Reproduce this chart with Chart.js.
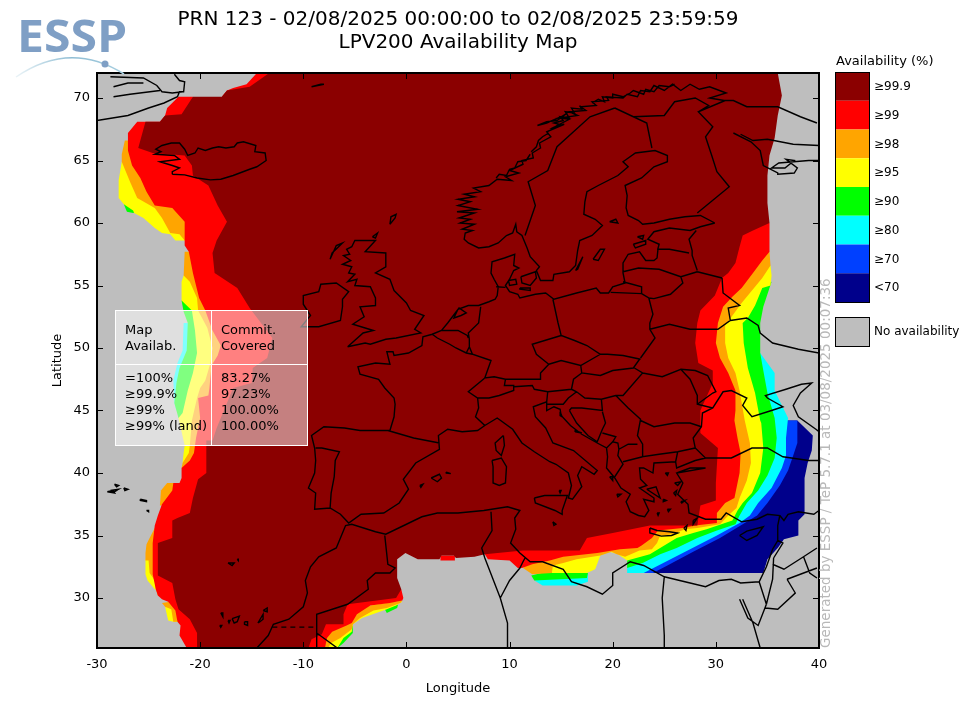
<!DOCTYPE html>
<html>
<head>
<meta charset="utf-8">
<title>LPV200 Availability Map</title>
<script src="https://cdn.jsdelivr.net/npm/chart.js@4"></script>
<style>
  html, body { margin: 0; padding: 0; background: #fff; }
  canvas { display: block; }
</style>
</head>
<body>
<canvas id="map" width="960" height="720"></canvas>
<script>
/* ---- axes ---- */
const LON_TICKS = [-30, -20, -10, 0, 10, 20, 30, 40];
const LAT_TICKS = [30, 35, 40, 45, 50, 55, 60, 65, 70];

/* ---- legend ---- */
const LEVEL_LABELS = ['≥99.9', '≥99', '≥98', '≥95', '≥90', '≥80', '≥70', '<70'];
const LEVEL_COLORS = ['#8b0000', '#ff0000', '#ffa500', '#ffff00', '#00ff00', '#00ffff', '#0040ff', '#00008b'];
const NO_DATA_COLOR = '#bebebe';

/* ---- summary box ---- */
const MAP_AVAIL = ['=100%', '≥99.9%', '≥99%', '≥99% (land)'];
const COMMIT_COVERED = ['83.27%', '97.23%', '100.00%', '100.00%'];

/* ---- availability regions [lon, lat], each is the area at or above that level ---- */
const AREA_BELOW70 = [[[37.9,44.2],[39.4,43],[39.3,41.8],[38.9,40.8],[38.6,39.6],[38.6,36.7],[38,36.2],[38,35],[36.6,34.7],[36,34],[35,33.1],[34.6,32],[23.1,32],[26.5,37.8],[35.3,44.2]]];
const AREA_70 = [[[37,44.2],[37.9,44.2],[37.9,42.4],[37.5,41.4],[37,40.2],[36.2,39],[35,37.6],[34,36.6],[32.8,36],[30.4,34.8],[27.8,33.7],[25.3,32.6],[23.9,32],[22.6,32],[26.5,37.8],[33.3,44.2]]];
const AREA_80 = [
  [[34.3,49.6],[35.7,48],[35.7,46.6],[37,44.4],[36.8,42.8],[36.8,41.4],[36.4,40.4],[35.4,38.8],[34.1,37.6],[33.3,36.6],[32.3,36],[30.1,35],[27.5,33.9],[24.9,32.8],[23,32],[21.4,32],[21.4,32.8],[26.5,37.8],[31.4,49.6]],
  [[12.4,31.4],[13.2,31],[16.5,31],[17.6,31.3],[17.6,32]],
  [[-21.6,52],[-21.7,49.8],[-22.2,48.8],[-22.6,47.4],[-22.5,45.6],[-22.3,45],[-20,45],[-20,52]]
];
const AREA_90 = [
  [[35.4,55.3],[34.6,53.3],[34.3,52],[34.3,49.6],[34.6,48.2],[35,46.4],[35.7,44.4],[35.9,42.8],[35.7,41.2],[35,39.8],[34.1,38.6],[33,37.6],[32.3,36.6],[31.9,35.9],[30.1,35.4],[28.2,34.8],[26.2,34],[24.6,33.5],[22.9,32.8],[21.4,32.4],[21.4,33],[26.5,37.8],[30.4,53.8]],
  [[12.1,31.8],[12.4,31.4],[17.5,31.6],[17.6,32],[14.1,32.2]],
  [[-21.8,53.8],[-21.6,52.9],[-21.2,52],[-21.3,49.8],[-22,48.4],[-22.3,47.2],[-22.5,45.6],[-22.1,44.4],[-20,44.4],[-20,53.8]],
  [[-27.4,61.5],[-27.1,60.9],[-26.5,60.8],[-25.8,61],[-26.8,61.8]],
  [[-6.7,26],[-6.1,26.4],[-5.2,27.2],[-5.2,27.8],[-6,27.4]],
  [[-1.9,28.8],[-0.9,29.2],[-0.8,29.5],[-2.1,29.1]]
];
const AREA_95 = [
  [[35.3,56.6],[35.4,55.8],[35.3,55],[34.5,54.8],[33.8,53.4],[33.1,52.4],[32.6,52],[32.7,50.4],[33.1,48.4],[33.8,46.4],[34.3,44.2],[34.4,44],[34.6,42],[34.3,40],[33.5,38.4],[32.6,37.6],[32.1,37],[31.6,36.2],[29.1,35.5],[27.8,35.2],[26.2,34.8],[24.6,34],[23.6,33.5],[21.4,33],[20.5,33.5],[19.7,33.7],[18.8,33.4],[18.3,32.3],[17.5,32],[14.1,32],[14.1,33],[18.8,37.8],[28.5,56.6]],
  [[-27.6,64.9],[-27.9,63.4],[-27.9,62],[-27.4,61.5],[-26.5,61],[-26.4,60.8],[-25.5,60.4],[-24.4,59.6],[-23.7,59.2],[-22.9,59.1],[-22.4,58.6],[-19,58.6],[-19,64.9]],
  [[-21.6,55.8],[-21.8,55.3],[-21.8,53.8],[-20.8,53],[-20.5,51.4],[-20.3,49.6],[-20.7,48],[-21.2,46.6],[-21.7,44.8],[-22.1,44.4],[-21.5,42.2],[-21.6,41.6],[-21.7,40.8],[-21.5,40.6],[-17.9,40.6],[-17.9,55.8]],
  [[-25.3,33.1],[-25.3,31.9],[-25.1,31.4],[-24.4,30.7],[-24.1,30.6],[-21,30.6],[-21,33.1]],
  [[-23.4,29.3],[-23.1,28.2],[-22.6,28.1],[-22.1,28.1],[-22.1,29.3]],
  [[-7.6,26],[-6.7,26],[-6.1,26.8],[-5.3,27.3],[-5.2,27.9],[-4.3,28.4],[-1.9,29.1],[-1,29.4],[-0.4,29.7],[-1.1,30],[-6.4,28.6]]
];
const AREA_98 = [
  [[35.2,57.7],[35.3,56.6],[34.5,55.6],[33.8,54.9],[32.5,53.6],[30.9,51.8],[30.9,50.4],[31.2,49.2],[31.9,48],[32.3,46.6],[32.8,44.2],[33.3,42.4],[33.4,40.8],[33,39.4],[32.3,38],[32,37.2],[31.2,36.6],[30.4,35.9],[28.2,35.6],[27,35.5],[25.8,35.1],[24.6,35],[24.3,34.4],[23.8,33.9],[22.6,33.8],[21.2,33.3],[20.4,33.5],[19.9,33.7],[18.8,33.4],[16.5,33.1],[15.2,32.8],[14.2,32.6],[14.1,32],[12.2,31.9],[11.3,32.4],[18.8,37.8],[28.5,57.7]],
  [[-27.3,66.6],[-27.6,65.5],[-27.6,64.9],[-26.8,63.3],[-26.1,62],[-24.4,61.2],[-23.7,60.4],[-22.9,59.2],[-22,59.1],[-21.5,58.6],[-19,58.6],[-19,66.6]],
  [[-21.5,57.7],[-21.6,55.8],[-21,55.3],[-20.3,54],[-20.2,53],[-19.3,51.6],[-18.8,50],[-19,48.8],[-19.5,47.4],[-20,46.8],[-20.3,46],[-20.8,44.2],[-21,42.2],[-21.1,41.6],[-21.7,40.8],[-21.8,40.4],[-18,40.4],[-18,57.7]],
  [[-23.2,39.2],[-23.8,38.6],[-23.9,37.4],[-22.4,37.4],[-22.4,39.2]],
  [[-24.4,35.6],[-24.9,34.8],[-25.2,34.3],[-25.3,33.6],[-25.3,33],[-25,33],[-24.9,32],[-24.4,31.4],[-24.3,30.7],[-24.1,30.2],[-21,30.2],[-21,35.6]],
  [[-23.7,29.6],[-23.4,29.3],[-22.8,29.1],[-22.6,28.1],[-22.2,28.1],[-22.1,29.8]],
  [[-7.6,26],[-7.3,26.4],[-6.4,26.8],[-5.3,27.5],[-5.2,27.9],[-4.5,28.4],[-3.2,29],[-1.9,29.2],[-0.6,29.6],[-0.4,29.8],[-6.4,29],[-8.4,26]]
];
const AREA_99 = [
  [[35.2,60],[35.2,57.7],[34.5,57],[33.6,56],[32.5,54.8],[31.6,54.1],[30.7,53.3],[30.2,52],[30,50.4],[30.4,49.2],[31.2,48],[31.9,46.6],[31.9,45],[31.8,44.2],[32.1,42.8],[32.4,41.6],[32.3,40],[31.8,38],[30.9,37.6],[30.1,36.8],[30.1,36],[28,35.8],[26.8,35.6],[24.4,35.4],[23.8,34.8],[22.8,34.2],[22.4,34],[20.7,33.9],[18.5,33.6],[15.2,33.3],[13.9,33],[12.2,32.7],[11.2,32.4],[10.8,32.4],[10,33],[7.9,33.1],[7.6,33.5],[9.1,37.8],[28.5,60]],
  [[-26.1,68.1],[-27,67.2],[-27,65.8],[-26.6,64.6],[-25.8,63.6],[-25.2,62.5],[-24.4,61.4],[-22.7,61.2],[-21.5,60.1],[-21.5,58.2],[-21.1,57.7],[-20.7,56],[-20.1,54],[-19.5,53],[-18.8,51.4],[-18,50.2],[-18.3,49.4],[-18.9,48.6],[-19.1,46.8],[-19.2,46.2],[-20.2,46],[-20,44.4],[-20.4,42.8],[-20.6,41.6],[-21,41],[-21.8,40.4],[-21.8,39.6],[-22,39.2],[-22.6,39.2],[-22.7,38.6],[-23.7,37.5],[-24.1,36.6],[-24.4,35.8],[-24.6,34.4],[-24.6,31.9],[-24.3,30.7],[-24.1,30.2],[-23.7,29.9],[-23.1,29.7],[-22.4,29],[-22.2,28.1],[-21.9,27.8],[-22,27],[-21.3,26],[-12,26],[-12,68.1]],
  [[-22.1,70.1],[-20.7,70.1],[-20.7,68],[-23.9,68.1],[-23.4,68.6],[-23.2,69.2]],
  [[-14.5,72],[-12,72],[-12,70],[-17.9,70.1],[-17.4,70.6],[-16.8,70.8],[-15.5,71.1]],
  [[-7.9,26],[-7.7,26.8],[-7.2,27.3],[-5.8,27.8],[-5.3,28],[-4.8,28.7],[-3.5,29.4],[-1.6,29.6],[-0.4,29.8],[-0.3,30],[-0.5,30.7],[-6.4,29.8],[-10.3,26]],
  [[3.3,33.4],[4.7,33.4],[4.7,33],[3.3,33]]
];
const AREA_999 = [[[-13.3,72],[36,72],[36.4,70.2],[36,68.6],[35.7,66.8],[35.2,65.4],[35,63.8],[35,61.6],[35.2,60],[33.6,59.4],[32.6,59],[32.3,58.1],[31.9,56.8],[31.2,56],[30.6,55.6],[29.9,54.2],[28.5,53],[28.2,52],[28,50.4],[28.3,48.8],[29.7,48.2],[29.7,47.2],[28.5,45],[28.5,43.2],[30.2,42],[30,39.2],[30,37.8],[28.5,37.4],[28.2,35.8],[23.6,35.8],[20,35.2],[17.5,34.8],[16.8,33.8],[11.3,33.8],[7.6,33.5],[6.6,33.3],[4.8,33.2],[4.6,33.4],[3.4,33.4],[3.2,33.1],[1.1,33.1],[-0.1,33.6],[-0.9,33.1],[-0.9,31.6],[-0.5,30.7],[-1,30],[-5.7,29.5],[-6.1,28.7],[-6.1,27.9],[-7.8,27.9],[-8.2,27.1],[-9.2,26.7],[-9.5,26],[-20.3,26],[-20.3,27.2],[-21,28.3],[-22.1,29.1],[-22.4,29.9],[-22.7,31.2],[-24.1,31.8],[-24.1,34.4],[-22.7,34.8],[-22.7,36.2],[-22.2,36.4],[-21,36.8],[-20.7,38],[-20.2,39.5],[-19.4,40],[-19.4,42.6],[-18.8,42.6],[-18.4,43.6],[-16.8,46.8],[-15,47.2],[-14.9,48.4],[-13.5,49.2],[-13,50.8],[-15.2,53.2],[-16.4,54.8],[-18.6,56],[-18.8,57.6],[-18.4,58.6],[-17.4,60.1],[-18.3,61.4],[-19.2,63],[-20.7,63.8],[-20.8,64.6],[-21.5,65.4],[-24.6,65.6],[-26,66],[-25.3,68.1],[-23.9,68.1],[-23.4,68.6],[-21.8,68.7],[-20.7,70.1],[-17.9,70.1],[-17.4,70.6],[-15.2,70.9]]];

/* ---- coast lines [lon, lat] ---- */
const COAST_MAINLAND = [
  [29.9,60],[28.5,60.6],[27,60.5],[25.5,60.3],[24,60],[22.9,59.9],[22.5,60.2],[21.5,60.6],[21.3,61.2],[21.4,62.2],[21.2,63],[22.8,63.6],[24,64.5],[25.3,64.9],[25.3,65.4],[24.1,65.8],[22.2,65.6],[21,64.9],[21.5,64.5],[20.5,63.8],[18.6,63],[17.5,62.5],[17.3,61.7],[17.2,60.7],[18.3,60.3],[19,59.8],[18,59],[16.8,58.6],[16.6,57.8],[16.4,56.6],[15.8,56.1],[14.3,55.9],[14.2,55.4],[13,55.4],[12.6,56.2],[12.9,56.5],[12,57.3],[11.7,58],[11.2,59],[10.7,59.3],[10.6,59.9],[10.3,59.2],[9.7,59],[8.9,58.4],[8,58.1],[7,58],[6,58.4],[5.6,58.7],[5.7,59.2],[6.4,59.4],[5.4,59.5],[6.6,59.9],[5.2,60],[6.2,60.3],[5.1,60.4],[6.6,60.8],[4.9,60.9],[6.9,61.1],[5,61.4],[6.2,61.7],[5,61.9],[6.6,62.1],[5.6,62.3],[7.2,62.5],[6.5,62.8],[8,63],[8.8,63.5],[10.2,63.4],[9.6,63.7],[10.9,64],[10,64.2],[11.3,64.7],[11.2,65],[12.3,65.2],[12.2,65.6],[13,66],[12.9,66.4],[14,66.9],[13.6,67.3],[15.3,67.9],[14.4,67.7],[15.8,68.3],[14.9,68.4],[16.6,68.6],[15.8,68.9],[17.4,69],[16.9,69.3],[18.4,69.4],[18,69.7],[19.6,69.8],[19.4,70.1],[21,70],[21.4,70.3],[22.4,70.1],[22.7,70.6],[23.6,70.5],[24,71],[25,70.6],[25.8,71.1],[26.6,70.6],[27.5,71.1],[28.4,70.7],[29.4,70.9],[31,70.4],[29.4,70],[30.8,69.8],[31.7,69.8],[33,69.3],[36,69.3],[38.2,68.5],[39.8,68]
];
const COAST_LOFOTEN = [[12.7,67.8],[13.6,68.1],[14.6,68.2],[15.6,68.8],[15,68.5],[13.6,68],[12.7,67.8]];
const COAST_NORWAY_ISLES = [
  [[14,67.5],[14.8,67.9],[14.3,68],[15.2,68.2],[14.9,68.5],[15.8,68.4],[15.4,68.9],[16.3,68.8],[16,69.2],[17,69.1],[16.8,69.4]],
  [[18,69.6],[18.6,69.9],[19.2,69.7],[19,70.1],[20,70],[20,70.3],[21,70.1],[21.7,70.4],[22,70.6],[23,70.3],[23.2,70.7],[24,70.5],[24.5,71],[25.5,70.9],[26,71.1]],
  [[8.7,63.6],[9,63.9],[9.7,63.8],[10,64.3],[10.5,64.4],[10.8,64.9],[11.6,65],[12,65.5]],
  [[12.1,65.7],[12.6,66.1],[12.8,66.6],[13.2,66.9],[13.8,67.2]]
];
const COAST_WHITE_SEA = [[32.4,67.1],[33.6,66.6],[35,66.7],[37.5,66.3],[40,66.2]];
const COAST_WHITE_SEA_SOUTH = [[31.7,67.2],[33.4,66.5],[34.3,65.8],[34.6,64.6],[36,64],[36,63.9],[37.6,64],[37.9,64.4],[36.8,65.1],[37.6,65],[36.7,64.4],[35.4,64.4],[36.1,64.8],[39,65],[40,65]];
const COAST_BALTIC_SOUTH = [
  [29.9,60],[28.5,59.7],[27.5,59.4],[25.5,59.6],[24,59.3],[23.4,58.7],[24.5,58.3],[24.4,58],[24.3,57.2],[24,57],[23.2,57],[22.6,57.7],[21.5,57.5],[21,56.8],[21,56],[21.2,55.2],[20,54.9],[19.6,54.4],[18.8,54.4],[18.4,54.8],[16.5,54.4],[14.3,53.9],[13.5,54.4],[12.5,54.3],[11,54],[10.8,54.3],[10,54.5],[9.6,55],[10,55.5],[10.4,56.2],[10.9,56.4],[10.4,56.6],[10.5,57.5],[9.5,57.2],[8.3,56.9],[8.2,56],[8.5,55.5],[8.9,54.9],[8.8,54.2],[8.6,53.9],[8,53.7],[7,53.4],[6,53.4],[5,53.1],[4.6,52.4],[5.3,52.6],[5.8,52.8],[5.1,53.2],[4,52],[3.4,51.4],[2.5,51.1],[1.6,50.9],[1.5,50.2],[0.2,49.6],[-1.2,49.4],[-1.3,49.7],[-1.9,49.7],[-1.6,48.7],[-3,48.8],[-4.7,48.5],[-4.5,47.9],[-2.7,47.5],[-2.1,46.8],[-1.2,46],[-1.1,45.5],[-1.2,44.5],[-1.6,43.4],[-3,43.4],[-4.5,43.4],[-6,43.6],[-8,43.7],[-9.2,43],[-8.9,42],[-8.8,41],[-8.9,40],[-9.5,38.8],[-8.8,38.4],[-8.9,37.1],[-7.4,37.2],[-6.4,36.7],[-5.6,36],[-4.4,36.7],[-2.2,36.8],[-0.7,37.6],[0.2,38.7],[-0.3,39.5],[0.9,40.8],[3.2,41.9],[3.1,43],[4,43.5],[5.4,43.3],[6.9,43.4],[7.6,43.8],[8.8,44.4],[10.3,43.5],[11.2,42.4],[12.4,41.7],[13.9,40.9],[14.5,40.7],[15.7,40],[16,39],[15.7,38],[16.1,37.9],[17,38.9],[16.6,39.8],[17,40.5],[18.2,39.9],[18.5,40.2],[16.2,41.8],[14.2,42.4],[13.5,43.6],[12.5,44.5],[12.3,45.3],[13.6,45.7],[13.6,45],[14.3,45.3],[14.9,45.1],[15,44.6],[15.9,43.8],[17,43.1],[18.5,42.4],[19.4,42],[19.5,41.3],[19.4,40.4],[20.2,39.6],[20.8,38.8],[21.7,38.3],[21.3,37.7],[21.7,36.9],[22.5,36.6],[23.1,36.5],[23.5,37],[23,37.9],[24,37.7],[24,38],[22.6,38.8],[23.3,39],[22.7,39.5],[22.6,40.4],[23,40.4],[23.9,40],[24,40.8],[26.1,40.9],[26.2,40.4],[28,41],[29,41.2],[28,42],[27.8,42.8],[28.6,43.7],[28.7,44.8],[29.7,45.2],[30.7,46.5],[31.5,46.6],[33,46],[32.6,45.4],[33.5,44.5],[35.4,45],[36.5,45.3],[35,46],[34.8,46.2],[36.8,46.7],[38.3,47.1],[39.3,47.2],[38.2,46.4],[37.5,45.4],[38,44.5],[39.7,43.5],[40,43.3]
];
const COAST_TURKEY = [[29,41.2],[31.5,41.2],[33.5,42],[35,42],[36.5,41.3],[39,41],[40,41]];
const COAST_TURKEY_SOUTH = [[26.2,40],[27.5,40.4],[29,40.4],[26.2,40],[26.8,39.2],[26.3,38.3],[27.3,37.5],[27.4,36.8],[29,36.3],[30.5,36.3],[31,36.8],[32.5,36.1],[34,36.3],[35,36.7],[36.2,36.6],[36,35.8],[36,34.6],[35.5,33.9],[34.9,32.5],[34.2,31.3],[32.4,31.2],[31.5,31.5],[30.3,31.4],[29,30.9],[27,31.3],[25,31.7],[23,32.6],[21.7,32.9],[20,32],[20,31],[19,30.3],[17.5,30.9],[16,31.3],[15.2,32.3],[13.2,32.9],[12,32.9],[11,33.6],[10.1,34.4],[10.6,35.5],[10.5,36.4],[11,37],[9.8,37.3],[7.5,37],[5,36.8],[3,36.8],[1.5,36.5],[0,35.9],[-2,35.1],[-3,35.3],[-5.3,35.9],[-5.9,35.8],[-6.8,34],[-8.5,33.3],[-9.3,32.5],[-9.8,31.4],[-9.6,30.4],[-10,29.3],[-11.4,28.3],[-12.9,27.9],[-13.4,27],[-14.5,26]];
const COAST_RED_SEA = [[32.3,29.9],[33.1,28.4],[34.1,27.8],[34.9,29.5]];
const COAST_RED_SEA_WEST = [[32.6,29.9],[33.6,28],[34.3,26],[34.5,26]];
const COAST_BRITAIN = [[-5.7,50.1],[-4,50.4],[-3.5,50.3],[-2,50.7],[-1,50.8],[1.4,51.2],[0.8,51.5],[1.7,52.6],[0.4,53],[0,53.6],[-1.2,54.6],[-1.6,55.5],[-3,56],[-2,56.5],[-2,57.6],[-4,57.7],[-3,58.6],[-5,58.6],[-5.3,58.1],[-5.8,57.9],[-5.5,57.5],[-6.1,57.4],[-5.4,57],[-6.2,56.7],[-5.3,56.5],[-5.6,56],[-5,55.9],[-5.7,55.3],[-4.8,55.5],[-5,55],[-3.5,54.9],[-3,54],[-3,53.4],[-4.5,53.3],[-4.1,52.5],[-5.2,51.9],[-3.2,51.4],[-4.2,51.2],[-5.7,50.1]];
const COAST_IRELAND = [[-6.2,53.3],[-6.4,52.2],[-8.5,51.7],[-10.2,51.7],[-9.3,52.6],[-10,53.5],[-10,54.2],[-8.5,54.5],[-8.3,55.1],[-6.8,55.2],[-5.6,54.5],[-6.2,53.9],[-6.2,53.3]];
const COAST_HEBRIDES = [[-7.4,57.1],[-7.2,57.6],[-6.2,58.4],[-6.8,58.2],[-7.4,57.1]];
const COAST_ORKNEY = [[-3.3,58.9],[-2.8,59.2],[-3,58.8],[-3.3,58.9]];
const COAST_SHETLAND = [[-1.6,59.9],[-1.1,60.4],[-1,60.7],[-1.5,60.5],[-1.6,59.9]];
const COAST_ICELAND = [[-22.7,63.9],[-21.5,63.85],[-20.3,63.6],[-19,63.45],[-18,63.5],[-16.8,63.8],[-15.2,64.3],[-14.5,64.5],[-13.6,65],[-13.7,65.6],[-14.7,65.7],[-14.6,66.2],[-15.8,66.5],[-16.4,66.4],[-16.7,66.1],[-17.5,66],[-18.2,66.1],[-18.8,66],[-19.5,65.8],[-20.2,66],[-20.5,65.6],[-21.2,65.4],[-21.5,65.9],[-22,66.4],[-22.8,66.4],[-23.7,66.2],[-24.3,65.9],[-23.8,65.7],[-24.4,65.5],[-22.5,65.4],[-22,65.1],[-23.9,64.9],[-22.7,64.6],[-22,64.4],[-22.7,64.1],[-22.7,63.9]];
const COAST_GREENLAND = [[-30,68.2],[-27,68.6],[-25,69.2],[-23.5,69.6],[-22.2,70.1],[-22,70.5],[-21.6,70.5],[-21.5,71.3],[-22,71.4],[-22.5,71.9]];
const COAST_SCORESBY_A = [[-28.7,71.7],[-25.5,71.6],[-24.2,71],[-23.7,70.5],[-22.7,70.4],[-21.7,70.5]];
const COAST_SCORESBY_B = [[-28.4,70.9],[-27,71.2],[-25.5,71.2]];
const COAST_SCORESBY_C = [[-28.4,70.1],[-26.8,70.3],[-23.9,70.6]];
const COAST_JAN_MAYEN = [[-9.2,70.9],[-8,71.1],[-8.3,71.1],[-9.2,70.9]];
const COAST_CORSICA = [[9.4,43],[9.5,42.2],[9.2,41.4],[8.7,41.8],[8.6,42.4],[9.4,43]];
const COAST_SARDINIA = [[8.3,41],[9.2,41.2],[9.7,40.5],[9.6,39.2],[9,39],[8.4,39.2],[8.4,40.5],[8.3,41]];
const COAST_SICILY = [[12.4,38],[13.4,38.2],[15.6,38.2],[15.1,37],[15.1,36.7],[14.4,37],[12.5,37.6],[12.4,38]];
const COAST_CRETE = [[23.6,35.6],[24.3,35.4],[25.5,35.3],[26.3,35.2],[25.7,35],[24.7,34.95],[23.6,35.2],[23.6,35.6]];
const COAST_CYPRUS = [[32.3,35],[33,35.35],[34.6,35.7],[34,35],[33,34.6],[32.3,35]];
const COAST_MALLORCA = [[2.4,39.6],[3.2,39.9],[3.4,39.6],[3,39.3],[2.4,39.6]];
const COAST_MENORCA = [[3.8,40],[4.3,39.95],[3.9,40.05],[3.8,40]];
const COAST_IBIZA = [[1.3,39],[1.6,39.1],[1.4,38.85],[1.3,39]];
const COAST_ZEALAND = [[11.1,55.7],[12.5,56.1],[12.6,55.6],[12,55],[11.2,55.2],[11.1,55.7]];
const COAST_FUNEN = [[9.9,55.4],[10.6,55.5],[10.7,55.1],[10,55],[9.9,55.4]];
const COAST_LOLLAND = [[11,54.8],[12,54.8],[12,54.6],[11,54.7],[11,54.8]];
const COAST_GOTLAND = [[18.1,57.1],[18.8,57.9],[19.2,57.9],[18.6,57],[18.1,57.1]];
const COAST_OLAND = [[16.4,56.2],[17.1,57.3],[16.6,56.3],[16.4,56.2]];
const COAST_SAAREMAA = [[22,58.3],[23.2,58.6],[23.2,58.3],[22.2,58],[22,58.3]];
const COAST_HIIUMAA = [[22.4,58.9],[23,59],[22.9,58.7],[22.4,58.9]];
const COAST_ALAND = [[19.7,60.1],[20.3,60.3],[20.5,60],[19.7,60.1]];
const COAST_ISLAND_GROUPS = [
  [[23.3,38.7],[24.2,38.9],[24.6,38],[23.3,38.7]], [[26,39.2],[26.6,39.3],[26.3,39],[26,39.2]],
  [[25.9,38.4],[26.2,38.6],[26.1,38.2],[25.9,38.4]], [[26.6,37.7],[27,37.8],[26.7,37.6],[26.6,37.7]],
  [[27.8,36.2],[28.2,36.4],[27.8,35.9],[27.8,36.2]], [[25.3,37.1],[25.6,37.1],[25.4,36.9],[25.3,37.1]],
  [[24.9,37.9],[25.2,37.8],[24.9,37.7],[24.9,37.9]], [[20.4,38.3],[20.8,38.3],[20.5,38.1],[20.4,38.3]],
  [[19.7,39.7],[20,39.7],[20,39.4],[19.7,39.7]], [[25.1,40],[25.4,40],[25.3,39.8],[25.1,40]],
  [[26.9,35.6],[27.2,35.8],[27.1,35.4],[26.9,35.6]], [[24.3,36.8],[24.5,36.8],[24.4,36.6],[24.3,36.8]],
  [[14.2,36.1],[14.5,35.9],[14.3,35.8],[14.2,36.1]], [[14.8,38.6],[15,38.6],[14.9,38.4],[14.8,38.6]],
  [[14.9,44.9],[15.1,44.5],[14.9,44.6],[14.9,44.9]], [[16.3,43.4],[17,43.2],[16.4,43.3],[16.3,43.4]],
  [[-29,38.5],[-28.5,38.6],[-28.3,38.4],[-29,38.5]], [[-28.7,38.6],[-27.9,38.7],[-28.3,38.5],[-28.7,38.6]],
  [[-27.4,38.8],[-27,38.7],[-27.3,38.6],[-27.4,38.8]], [[-28.3,39.1],[-27.9,39],[-28.1,38.9],[-28.3,39.1]],
  [[-25.8,37.9],[-25.2,37.8],[-25.2,37.7],[-25.8,37.8],[-25.8,37.9]], [[-25.2,37],[-25,37],[-25,36.9],[-25.2,37]],
  [[-17.3,32.8],[-16.7,32.8],[-16.9,32.6],[-17.3,32.8]], [[-16.4,33.1],[-16.3,33.1],[-16.3,33],[-16.4,33.1]],
  [[-18,28.8],[-17.8,28.8],[-17.8,28.5],[-18,28.8]], [[-18.1,27.8],[-17.9,27.8],[-18,27.65],[-18.1,27.8]],
  [[-17.3,28.2],[-17.1,28.2],[-17.2,28],[-17.3,28.2]], [[-16.9,28.35],[-16.2,28.55],[-16.4,28.1],[-16.7,28],[-16.9,28.35]],
  [[-15.7,28.1],[-15.4,28.1],[-15.4,27.8],[-15.7,27.9],[-15.7,28.1]], [[-14.4,28],[-13.9,28.7],[-13.9,28.3],[-14.2,28.1],[-14.4,28]],
  [[-13.9,29],[-13.5,29.2],[-13.5,28.9],[-13.9,29]]
];

/* ---- country borders [lon, lat] ---- */
const BORDERS = [
  [[11.5,59],[12.5,61.4],[11.8,63.3],[13.7,64.2],[14.6,66.1],[16.2,67.3],[17.8,68.5],[20.2,69.2]],
  [[23.8,66],[23.3,68],[20.2,69.2]],
  [[20.2,69.2],[22,68.5],[25,68.6],[26,69.7],[28,70],[29.3,69.4],[28.3,68.9]],
  [[30.9,69.8],[28.3,68.9],[29.7,67.7],[29,66.9],[29.6,65.4],[30.1,64.1],[31.3,62.9],[28.2,60.8]],
  [[28.1,59.4],[27.4,58.7],[27.7,57.8],[27.7,57.4],[28.2,56.2]],
  [[24.3,57.9],[25.5,57.9],[27.4,57.6]],
  [[21,56.1],[22.5,56.4],[24.5,56.3],[26.6,55.7]],
  [[28.2,56.1],[26.6,55.7],[26.8,55.2],[25.6,54.3],[24,53.95],[23.5,54]],
  [[21,55.3],[22.8,54.9],[22.8,54.35],[19.8,54.45]],
  [[22.8,54.35],[23.5,54],[23.9,52.7],[23.6,52],[23.6,51.5],[24.1,50.8],[22.7,49.2]],
  [[22.7,49.1],[21,49.4],[19.5,49.5],[18.8,49.5],[17.5,50.2],[16.3,50.6],[15,51],[14.7,52],[14.2,53.9]],
  [[15,51],[12.2,50.3],[12.6,49.5],[13.8,48.7],[13,48],[13,47.5],[10.5,47.5],[9.6,47.5],[8.5,47.7],[7.6,47.6],[8.2,49],[6.4,49.5],[6.1,50.1],[6.1,50.7],[6,51.2],[7,52],[7.2,53.3]],
  [[2.5,51.1],[3,50.8],[4.2,50.3],[4.8,50],[5.8,49.6],[6.4,49.5]],
  [[5.8,49.6],[6.1,50.1]],
  [[3.4,51.4],[5,51.4],[5.9,51],[6,50.8]],
  [[7.6,47.6],[6,46.5],[6.9,46],[8,46],[9,46.2],[10.4,46.6],[10.4,47],[9.5,47],[9.6,47.5]],
  [[10.4,46.9],[12.2,47],[12.4,46.7],[13.7,46.5],[16,46.7],[16.2,47.5],[17,48]],
  [[13.8,48.7],[15,49],[16.9,48.6],[18.8,49.5]],
  [[16.9,48.6],[17,48],[18.8,47.8],[20,48.2],[22,48.4],[22.6,49.1]],
  [[22.1,48.4],[22.9,48],[21,46.2],[20.3,46.2],[18.9,45.9],[17.3,46],[16.5,46.5],[16,46.7]],
  [[22.9,48],[24.8,47.7],[26.6,48.3],[27.5,47.5],[28.2,46.2],[28.2,45.5],[29.7,45.2]],
  [[26.6,48.3],[28,48.2],[29.2,47.8],[30,46.5],[29.7,46.4],[28.2,45.5]],
  [[22.7,44.2],[24,43.7],[26,44],[27.5,44],[28.6,43.7]],
  [[20.3,46.2],[21.5,45.2],[22.7,44.3],[22.4,43],[22.9,42.3],[22.9,41.3],[24.5,41.5],[26.3,41.7],[28,42]],
  [[26.3,41.7],[26.1,40.9]],
  [[23.6,51.5],[25.5,51.9],[27.5,51.5],[30.2,51.5],[31.4,52.2],[33,52.4],[34.1,51.8],[34.3,51.2],[35.5,50.4],[38,49.9],[40,49.6]],
  [[30.6,55.6],[30.7,54.4],[32.3,53.4],[31.2,53.2],[31.4,52.2]],
  [[28.2,56.1],[30.6,55.6]],
  [[13.6,45.5],[15.2,45.5],[15.7,46],[16.5,46.5]],
  [[13.7,46.5],[13.6,45.7]],
  [[15.8,45],[16,45.2],[17,45.2],[19,45],[18.9,45.9]],
  [[15.8,45],[16.5,44],[17.6,43],[18.5,42.5],[19,43.5],[19.3,44],[19,44.9]],
  [[19,43.2],[20.3,42.9],[20,42.5],[19.4,42]],
  [[22.4,42.3],[21.5,42.3],[20.6,41.9],[20.5,42.4],[20,42.5]],
  [[20.6,41.9],[20.5,41.4],[21,40.7],[20.2,39.7]],
  [[21,40.9],[22.9,41.3]],
  [[6.9,46],[7,45.2],[6.7,44.5],[7.6,43.8]],
  [[-1.8,43.4],[0.7,42.8],[3.2,42.4]],
  [[-8.8,42],[-8.2,42],[-6.5,41.7],[-6.9,41],[-7,39.7],[-7.3,38.4],[-7.4,37.2]],
  [[8.7,54.9],[9.6,54.85]],
  [[-2.1,35],[-1.8,32.7],[-1.1,32.4],[-1.6,32],[-3,32],[-3.8,31.4],[-3.7,30.7],[-5.7,29.5],[-8.7,28.7],[-8.7,26]],
  [[-8.7,27.2],[-6.7,26]],
  [[8.2,36.9],[8.3,35.4],[7.3,34],[7.6,33.2],[9.1,30],[9.8,28],[9.8,26]],
  [[11.5,33.2],[11.3,32.9],[11,32.4],[10,31.4],[9.1,30]],
  [[25,31.7],[24.8,30],[25,27],[25,26]],
  [[34.2,31.3],[34.9,29.5]],
  [[35.6,33.2],[35.5,31.5],[34.9,29.5]],
  [[35.5,32.7],[36.6,32.3],[38.5,33.3],[39.8,34]],
  [[36.9,31.5],[37.7,30.4],[36,29.1],[34.8,29.2]],
  [[36.9,31.5],[39.8,32.4]],
  [[38.5,33.3],[39.1,32],[39.8,31.6]],
  [[36,34.6],[36.5,34.4],[35.6,33.2]],
  [[36.2,36.6],[36.6,36.2],[37,36.7],[38,36.9],[39.5,36.7],[40,37]]
];
const WESTERN_SAHARA_LINE = [[-13,27.67],[-8.7,27.67]];

const COAST_LINES = [
  COAST_MAINLAND, COAST_LOFOTEN, COAST_WHITE_SEA, COAST_WHITE_SEA_SOUTH, COAST_BALTIC_SOUTH, COAST_TURKEY, COAST_TURKEY_SOUTH,
  COAST_RED_SEA, COAST_RED_SEA_WEST, COAST_BRITAIN, COAST_IRELAND, COAST_HEBRIDES, COAST_ORKNEY, COAST_SHETLAND, COAST_ICELAND,
  COAST_GREENLAND, COAST_SCORESBY_A, COAST_SCORESBY_B, COAST_SCORESBY_C, COAST_JAN_MAYEN, COAST_CORSICA, COAST_SARDINIA,
  COAST_SICILY, COAST_CRETE, COAST_CYPRUS, COAST_MALLORCA, COAST_MENORCA, COAST_IBIZA, COAST_ZEALAND, COAST_FUNEN, COAST_LOLLAND,
  COAST_GOTLAND, COAST_OLAND, COAST_SAAREMAA, COAST_HIIUMAA, COAST_ALAND
].concat(COAST_NORWAY_ISLES, COAST_ISLAND_GROUPS);

/* pairs to {x,y} objects */
const toXY = line => line.map(p => ({ x: p[0], y: p[1] }));

/* many polylines in one dataset, a null point breaks the line */
function joinLines(lines) {
  const out = [];
  lines.forEach(l => { out.push(...toXY(l), { x: null, y: null }); });
  return out;
}

/* ---- datasets: first in the list is painted last ---- */
const datasets = [];
datasets.push({ data: joinLines(COAST_LINES.concat(BORDERS)), borderColor: '#000', borderWidth: 1.4, pointRadius: 0, fill: false, spanGaps: false });
datasets.push({ data: toXY(WESTERN_SAHARA_LINE), borderColor: '#000', borderWidth: 1.4, borderDash: [5, 4], pointRadius: 0, fill: false });

/* ordered top to bottom, so ≥99.9 stays above everything */
[AREA_999, AREA_99, AREA_98, AREA_95, AREA_90, AREA_80, AREA_70, AREA_BELOW70].forEach((areas, i) => {
  areas.forEach(area => {
    datasets.push({
      data: toXY(area),
      borderWidth: 0,
      borderColor: 'transparent',
      backgroundColor: LEVEL_COLORS[i],
      pointRadius: 0,
      fill: 'shape'
    });
  });
});

/* ---- plot background ---- */
const backgroundPlugin = {
  id: 'mapBackground',
  beforeDatasetsDraw(chart) {
    const { ctx, chartArea: a } = chart;
    ctx.save();
    ctx.fillStyle = NO_DATA_COLOR;
    ctx.fillRect(a.left, a.top, a.right - a.left, a.bottom - a.top);
    ctx.restore();
  }
};

/* ---- frame, inward ticks, summary box, colour legend, logo ---- */
const overlayPlugin = {
  id: 'mapOverlay',
  afterDatasetsDraw(chart) {
    const { ctx, chartArea: a, scales } = chart;
    ctx.save();

    ctx.strokeStyle = '#000';
    ctx.lineWidth = 2;
    ctx.strokeRect(a.left, a.top, a.right - a.left, a.bottom - a.top);
    ctx.lineWidth = 1;
    ctx.beginPath();
    LON_TICKS.forEach(v => {
      const x = Math.round(scales.x.getPixelForValue(v)) + 0.5;
      ctx.moveTo(x, a.top); ctx.lineTo(x, a.top + 6);
      ctx.moveTo(x, a.bottom); ctx.lineTo(x, a.bottom - 6);
    });
    LAT_TICKS.forEach(v => {
      const y = Math.round(scales.y.getPixelForValue(v)) + 0.5;
      ctx.moveTo(a.left, y); ctx.lineTo(a.left + 6, y);
      ctx.moveTo(a.right, y); ctx.lineTo(a.right - 6, y);
    });
    ctx.stroke();

    // summary box
    ctx.fillStyle = 'rgba(255,255,255,0.5)';
    ctx.fillRect(115, 310, 192, 136);
    ctx.strokeStyle = '#fff';
    ctx.strokeRect(115.5, 310.5, 192, 135);
    ctx.beginPath();
    ctx.moveTo(211.5, 310); ctx.lineTo(211.5, 446);
    ctx.moveTo(115, 364.5); ctx.lineTo(307, 364.5);
    ctx.stroke();

    ctx.fillStyle = '#000';
    ctx.font = '13px "DejaVu Sans"';
    ctx.textAlign = 'left';
    ctx.textBaseline = 'middle';
    ctx.fillText('Map', 125, 331);
    ctx.fillText('Availab.', 125, 347);
    ctx.fillText('Commit.', 221, 331);
    ctx.fillText('Covered', 221, 347);
    MAP_AVAIL.forEach((t, i) => ctx.fillText(t, 125, 379 + i * 16));
    COMMIT_COVERED.forEach((t, i) => ctx.fillText(t, 221, 379 + i * 16));

    // colour legend
    ctx.fillText('Availability (%)', 836, 62);
    ctx.font = '12px "DejaVu Sans"';
    const legendTop = 72, legendStep = 28.75;
    LEVEL_COLORS.forEach((c, i) => {
      ctx.fillStyle = c;
      ctx.fillRect(835, legendTop + i * legendStep, 35, legendStep);
      ctx.fillStyle = '#000';
      ctx.fillText(LEVEL_LABELS[i], 874, legendTop + (i + 0.5) * legendStep + 0.5);
    });
    ctx.strokeStyle = '#000';
    ctx.lineWidth = 1;
    ctx.strokeRect(835.5, 72.5, 34, 230);
    ctx.fillStyle = NO_DATA_COLOR;
    ctx.fillRect(835.5, 317.5, 34, 29);
    ctx.strokeRect(835.5, 317.5, 34, 29);
    ctx.fillStyle = '#000';
    ctx.fillText('No availability', 874, 332);

    // generated by line
    ctx.save();
    ctx.translate(826, 648);
    ctx.rotate(-Math.PI / 2);
    ctx.fillStyle = '#b8b8b8';
    ctx.textBaseline = 'middle';
    ctx.font = '13.5px "DejaVu Sans"';
    ctx.fillText('Generated by ESSP / TeP 5.7.1 at 03/08/2025 00:07:36', 0, 0);
    ctx.restore();

    // logo
    ctx.save();
    ctx.translate(17, 52);
    ctx.scale(1.07, 1);
    ctx.fillStyle = '#7f9fc5';
    ctx.font = 'bold 45px "Open Sans"';
    ctx.textBaseline = 'alphabetic';
    ctx.fillText('ESSP', 0, 0);
    ctx.restore();
    const arc = ctx.createLinearGradient(16, 0, 125, 0);
    arc.addColorStop(0, 'rgba(150,195,215,0.2)');
    arc.addColorStop(0.5, '#8fbdd4');
    arc.addColorStop(1, '#a8cfe0');
    ctx.strokeStyle = arc;
    ctx.lineWidth = 1.5;
    ctx.beginPath();
    ctx.moveTo(16, 77);
    ctx.quadraticCurveTo(70, 40, 124, 74);
    ctx.stroke();
    ctx.fillStyle = '#7f9fc5';
    ctx.beginPath();
    ctx.arc(105, 64, 3.5, 0, Math.PI * 2);
    ctx.fill();

    ctx.restore();
  }
};

new Chart(document.getElementById('map'), {
  type: 'line',
  data: { datasets },
  plugins: [backgroundPlugin, overlayPlugin],
  options: {
    responsive: false,
    animation: false,
    layout: { padding: { top: 0, right: 141 } },
    plugins: {
      legend: { display: false },
      tooltip: { enabled: false },
      title: {
        display: true,
        fullSize: false,
        text: ['PRN 123 - 02/08/2025 00:00:00 to 02/08/2025 23:59:59', 'LPV200 Availability Map'],
        color: '#000',
        font: { family: '"DejaVu Sans"', size: 20, weight: 'normal', lineHeight: 1.15 },
        padding: { top: 8, bottom: 19 }
      }
    },
    scales: {
      x: {
        type: 'linear', min: -30, max: 40,
        afterBuildTicks: s => { s.ticks = LON_TICKS.map(value => ({ value })); },
        afterFit: s => { s.height = 72; },
        grid: { display: false, drawTicks: false },
        border: { display: false },
        ticks: { color: '#000', font: { family: '"DejaVu Sans"', size: 13 }, padding: 9, maxRotation: 0 },
        title: { display: true, text: 'Longitude', color: '#000', font: { family: '"DejaVu Sans"', size: 13 }, padding: { bottom: 24 } }
      },
      y: {
        type: 'linear', min: 26, max: 72,
        afterBuildTicks: s => { s.ticks = LAT_TICKS.map(value => ({ value })); },
        afterFit: s => { s.width = 97; },
        grid: { display: false, drawTicks: false },
        border: { display: false },
        ticks: { color: '#000', font: { family: '"DejaVu Sans"', size: 13 }, padding: 7 },
        title: { display: true, text: 'Latitude', color: '#000', font: { family: '"DejaVu Sans"', size: 13 }, padding: { top: 50 } }
      }
    }
  }
});
</script>
</body>
</html>
